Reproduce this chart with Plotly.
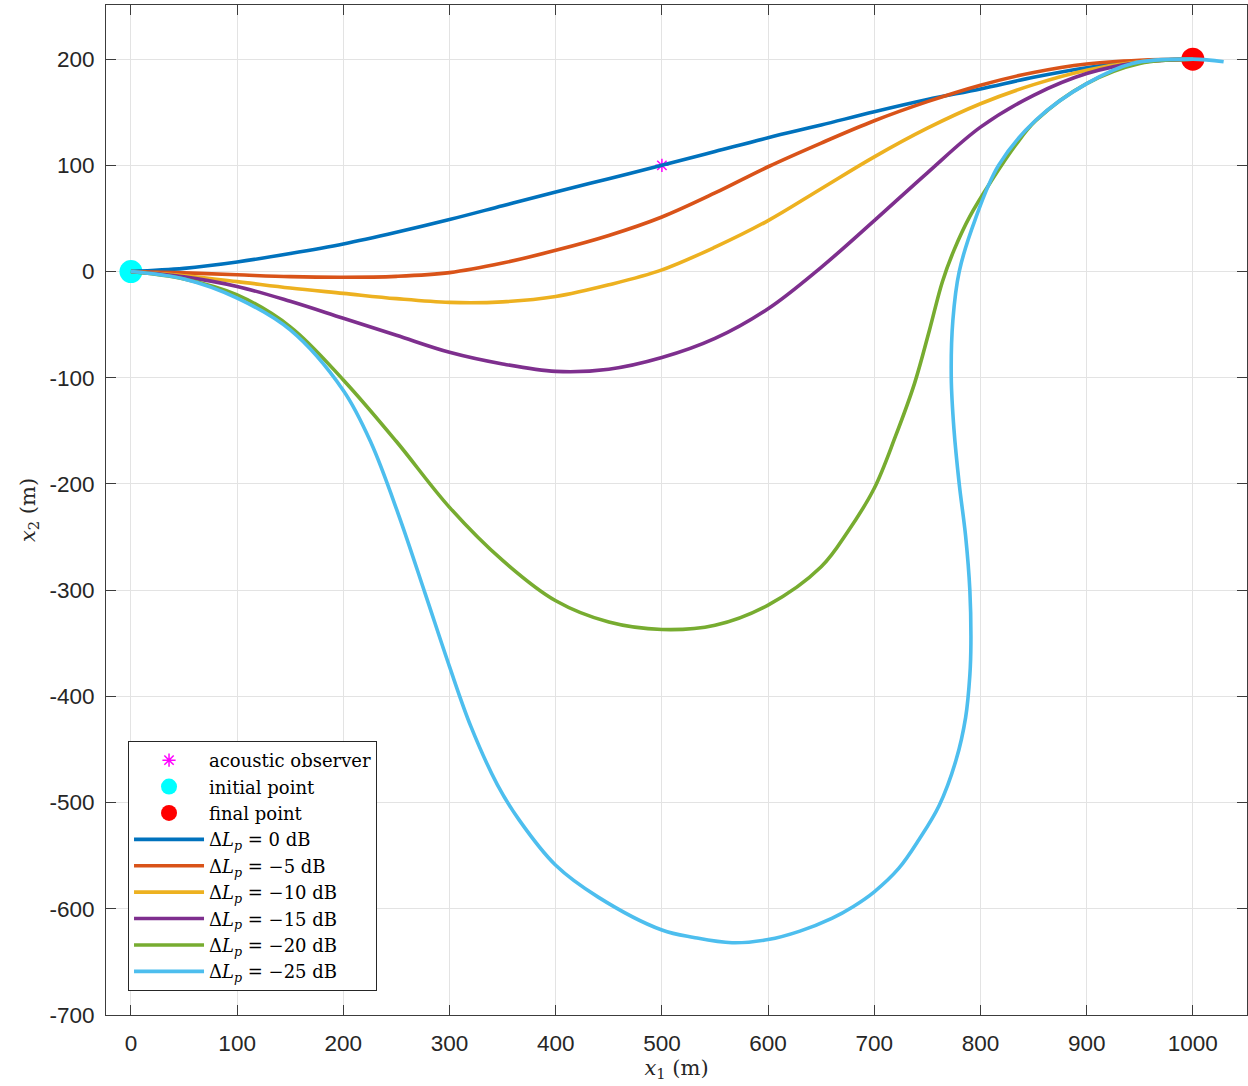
import plotly.graph_objects as go

# ---------------- data ----------------
observer = (500, 100)
initial_point = (0, 0)
final_point = (1000, 200)

x_0db = [0, 50, 100, 150, 200, 250, 300, 350, 400, 450, 500, 550, 600, 650, 700, 750, 800, 850, 900, 950, 1000]
y_0db = [0, 3, 9, 17, 26, 37, 49, 62, 75, 87.5, 100, 113, 126, 138, 150.5, 162, 172, 183, 192, 198, 200]

x_5db = [0, 50, 100, 150, 200, 250, 300, 350, 400, 450, 500, 550, 600, 650, 700, 750, 800, 850, 900, 950, 1000]
y_5db = [0, -1.2, -3, -4.8, -5.4, -4.5, -1, 8, 20, 34, 51.4, 74, 98.7, 121, 142, 160, 175.5, 187.5, 195.5, 199, 200]

x_10db = [0, 50, 100, 150, 200, 250, 300, 350, 400, 450, 500, 550, 600, 650, 700, 750, 800, 850, 900, 950, 1000]
y_10db = [0, -4, -9.5, -15.5, -20.5, -25.5, -29, -28.5, -23.5, -12.5, 1.6, 23, 48, 78, 108, 135, 158, 176, 189.6, 197.5, 200]

x_15db = [0, 50, 100, 150, 200, 250, 300, 350, 400, 450, 500, 550, 600, 650, 700, 750, 800, 850, 900, 950, 1000]
y_15db = [0, -5, -14, -28, -44, -60, -76, -87, -94, -92, -81, -63, -35, 4, 48, 93, 136, 166, 186.5, 197, 200]

x_20db = [0, 50, 100, 150, 200, 250, 300, 350, 400, 450, 500, 550, 600, 650, 675, 700,
          720, 738, 752, 764, 775, 790, 810, 833, 852, 900, 950, 1000]
y_20db = [0, -7, -22, -52, -102, -160, -222, -272, -310, -330, -337, -333, -314, -278, -245, -204,
          -155, -105, -55, -10, 20, 52, 85, 119, 142, 177, 196, 200]

x_25db = [0, 50, 100, 150, 200, 226, 252, 277, 300, 320, 345, 366, 400, 440, 500, 530, 566, 600, 630, 660, 680, 700,
          723, 742, 761, 777, 786, 790, 791, 790, 786, 780, 775, 772.5, 774, 780, 795, 817, 852, 900, 943, 1000, 1029]
y_25db = [0, -7, -25, -55, -112, -161, -229, -303, -372, -428, -483, -517, -559, -589, -620, -627, -632, -629, -621, -609, -598, -584,
          -562, -535, -503, -460, -420, -380, -350, -300, -249, -200, -148, -100, -46, 0, 49, 100, 142.5, 177, 196, 200, 197.5]

series_names = ["0 dB", "−5 dB", "−10 dB", "−15 dB", "−20 dB", "−25 dB"]
series_x = [x_0db, x_5db, x_10db, x_15db, x_20db, x_25db]
series_y = [y_0db, y_5db, y_10db, y_15db, y_20db, y_25db]
colors = ["#0072BD", "#D95319", "#EDB120", "#7E2F8E", "#77AC30", "#4DBEEE"]

x_ticks = list(range(0, 1001, 100))
y_ticks = list(range(-700, 201, 100))

# ---------------- figure ----------------
fig = go.Figure()

fig.add_trace(go.Scatter(
    x=[observer[0]], y=[observer[1]], mode="markers", name="acoustic observer",
    marker=dict(symbol="asterisk-open", size=11, color="#FF00FF", line=dict(color="#FF00FF", width=1.5))))
fig.add_trace(go.Scatter(
    x=[initial_point[0]], y=[initial_point[1]], mode="markers", name="initial point",
    marker=dict(symbol="circle", size=23, color="#00FFFF", line=dict(width=0))))
fig.add_trace(go.Scatter(
    x=[final_point[0]], y=[final_point[1]], mode="markers", name="final point",
    marker=dict(symbol="circle", size=23, color="#FF0000", line=dict(width=0))))

for nm, xs, ys, c in zip(series_names, series_x, series_y, colors):
    fig.add_trace(go.Scatter(
        x=xs, y=ys, mode="lines",
        name="Δ<i>L</i><sub><i>p</i></sub> = " + nm,
        line=dict(color=c, width=3.6, shape="spline", smoothing=1.0)))

serif = "DejaVu Serif, Liberation Serif, serif"
axis_common = dict(
    showgrid=True, gridcolor="#E3E3E3", gridwidth=1,
    zeroline=False, showline=True, linecolor="#3C3C3C", linewidth=1,
    mirror="allticks", ticks="inside", ticklen=10, tickcolor="#3C3C3C", tickwidth=1,
    tickfont=dict(family="Liberation Sans, Arial, sans-serif", size=22.5, color="#262626"),
    automargin=False,
)

fig.update_layout(
    width=1248, height=1086,
    paper_bgcolor="white", plot_bgcolor="white",
    margin=dict(l=106, r=1, t=5, b=71),
    showlegend=True,
    legend=dict(
        x=0.0193, y=0.0238, xanchor="left", yanchor="bottom",
        bgcolor="white", bordercolor="#262626", borderwidth=1,
        font=dict(family=serif, size=18, color="#000000"),
        tracegroupgap=0, itemwidth=70,
    ),
    xaxis=dict(
        range=[-23.5, 1051], tickvals=x_ticks, ticktext=[str(v) for v in x_ticks],
        ticklabelstandoff=8,
        title=dict(text="<i>x</i><sub>1</sub> (m)", standoff=4,
                   font=dict(family=serif, size=21, color="#262626")),
        **axis_common),
    yaxis=dict(
        range=[-700, 251], tickvals=y_ticks, ticktext=[str(v) for v in y_ticks],
        ticklabelstandoff=6,
        title=dict(text="<i>x</i><sub>2</sub> (m)", standoff=8,
                   font=dict(family=serif, size=21, color="#262626")),
        **axis_common),
)

fig.write_html("out.html", config={"displayModeBar": False},
               post_script="document.body.style.margin='0';document.body.style.padding='0';")
